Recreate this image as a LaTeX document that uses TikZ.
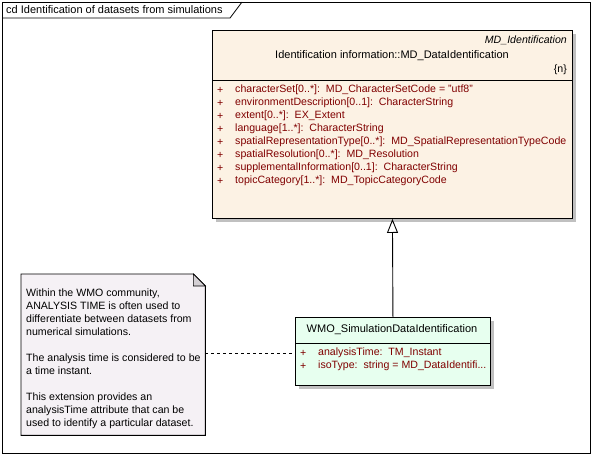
\documentclass[tikz,border=0pt]{standalone}
\usepackage{fontspec}
\setmainfont{Liberation Sans}
\usetikzlibrary{arrows.meta}

\definecolor{classfill}{RGB}{252,242,228}
\definecolor{extfill}{RGB}{231,255,239}
\definecolor{notefill}{RGB}{245,241,245}
\definecolor{foldfill}{RGB}{212,208,212}
\definecolor{attrcol}{RGB}{128,0,0}
\definecolor{shadowgray}{RGB}{192,192,192}

\tikzset{
  umltext/.style={font=\fontsize{10.6}{13}\selectfont, inner sep=0pt},
  nametext/.style={font=\fontsize{11}{13}\selectfont, inner sep=0pt},
  attrtext/.style={umltext, text=attrcol, anchor=west},
  classbox/.style={draw, line width=0.9pt, anchor=north west, inner sep=0pt},
}

\begin{document}
\begin{tikzpicture}[x=1pt,y=-1pt]
\useasboundingbox (0,0) rectangle (592,455);


\draw[line width=1pt] (2,2) rectangle (590,453);
\draw[line width=0.8pt] (2,18) -- (230,18) -- (242,2);
\node[nametext, anchor=west] (frametitle) at (6,10) {cd Identification of datasets from simulations};


\fill[shadowgray] (216,34) rectangle (576,222);
\node[classbox, fill=classfill, minimum width=360pt, minimum height=188pt] (mdid) at (212,30) {};
\draw[line width=0.9pt] (mdid.west |- 0,80) -- (mdid.east |- 0,80);

\node[nametext, anchor=east, font=\fontsize{10.6}{13}\selectfont\itshape] (stereo) at (567,40) {MD\_Identification};
\node[nametext] (mdname) at (392,56) {Identification information::MD\_DataIdentification};
\node[umltext, anchor=east] (tagn) at (567,70) {\{n\}};

\foreach \a [count=\i from 0] in {characterSet[0..*]:\ \ MD\_CharacterSetCode = "utf8",
    environmentDescription[0..1]:\ \ CharacterString,
    extent[0..*]:\ \ EX\_Extent,
    language[1..*]:\ \ CharacterString,
    spatialRepresentationType[0..*]:\ \ MD\_SpatialRepresentationTypeCode,
    spatialResolution[0..*]:\ \ MD\_Resolution,
    supplementalInformation[0..1]:\ \ CharacterString,
    topicCategory[1..*]:\ \ MD\_TopicCategoryCode}
{
	\node[attrtext] (plus\i) at (217,90+13*\i) {+};
	\node[attrtext] (attr\i) at (235,90+13*\i) {\a};
}


\fill[shadowgray] (299,321) rectangle (494,389);
\node[classbox, fill=extfill, minimum width=195pt, minimum height=68pt] (wmo) at (295,317) {};
\draw[line width=0.9pt] (wmo.west |- 0,343) -- (wmo.east |- 0,343);
\node[nametext] (wmoname) at (392,330) {WMO\_SimulationDataIdentification};

\node[attrtext] (wplus0) at (300,353) {+};
\node[attrtext] (wattr0) at (318,353) {analysisTime:\ \ TM\_Instant};
\node[attrtext] (wplus1) at (300,366) {+};
\node[attrtext] (wattr1) at (318,366) {isoType:\ \ string = MD\_DataIdentifi...};


\node[minimum width=184pt, minimum height=161pt, anchor=north west, inner sep=0pt] (note) at (21,274) {};
\draw[line width=0.9pt, fill=notefill] (note.north west) -- ([xshift=-12pt]note.north east) -- ([yshift=-12pt]note.north east) -- (note.south east) -- (note.south west) -- cycle;
\draw[line width=0.6pt, fill=foldfill] ([xshift=-12pt]note.north east) -- ([xshift=-12pt,yshift=-12pt]note.north east) -- ([yshift=-12pt]note.north east) -- cycle;
\node[umltext, anchor=north west, align=left] (notetext) at (26,289) {Within the WMO community,\\ANALYSIS TIME is often used to\\differentiate between datasets from\\numerical simulations.\\[13pt]The analysis time is considered to be\\a time instant.\\[13pt]This extension provides an\\analysisTime attribute that can be\\used to identify a particular dataset.};


\draw[line width=0.8pt, dash pattern=on 3pt off 3pt] (note.east |- 0,353) -- (wmo.west |- 0,353);
\draw[line width=0.9pt, -{Triangle[open, width=11pt, length=14pt]}] (wmo.north) -- (mdid.south);

\end{tikzpicture}
\end{document}
